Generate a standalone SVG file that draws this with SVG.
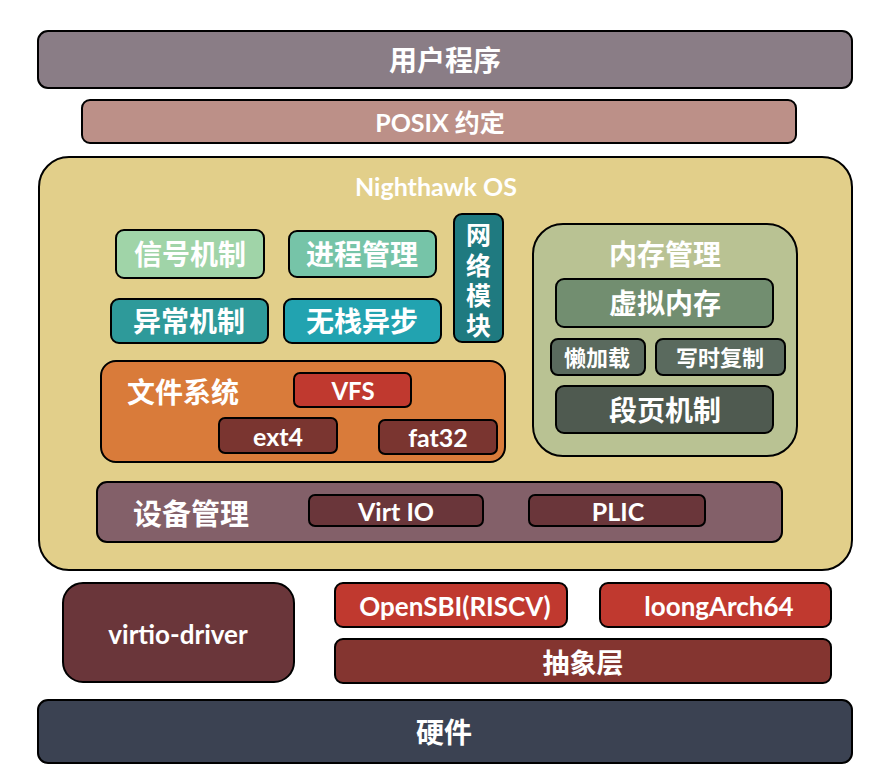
<svg xmlns="http://www.w3.org/2000/svg" width="888" height="782" viewBox="0 0 888 782">
<style>
.b{stroke:#000;stroke-width:2}
.t{font-family:Lato,"Noto Sans CJK SC",sans-serif;font-weight:bold;fill:#fff;text-anchor:middle;dominant-baseline:central}
</style>
<rect width="888" height="782" fill="#fff"/>
<g id="user"><rect class="b" x="38" y="31" width="814" height="57" rx="10" fill="#8A7D86"/><text class="t" x="445" y="60" font-size="28">用户程序</text></g>
<g id="posix"><rect class="b" x="82" y="100" width="714" height="43" rx="8" fill="#BC9088"/><text class="t" x="440" y="122" font-size="25">POSIX 约定</text></g>
<g id="os"><rect class="b" x="39" y="157" width="813" height="413" rx="30" fill="#E2CF8A"/><text class="t" x="436" y="186" font-size="25">Nighthawk OS</text></g>
<g id="signal"><rect class="b" x="116" y="230" width="148" height="48" rx="8" fill="#A0D4A8"/><text class="t" x="190" y="254" font-size="28">信号机制</text></g>
<g id="proc"><rect class="b" x="289" y="231" width="147" height="46" rx="8" fill="#76C4A8"/><text class="t" x="362" y="254" font-size="28">进程管理</text></g>
<g id="net"><rect class="b" x="454" y="214" width="49" height="128" rx="8" fill="#1F7A80"/><text class="t" x="478.5" font-size="25"><tspan x="478.5" y="234">网</tspan><tspan x="478.5" y="265">络</tspan><tspan x="478.5" y="295">模</tspan><tspan x="478.5" y="325">块</tspan></text></g>
<g id="exc"><rect class="b" x="111" y="299" width="157" height="44" rx="8" fill="#2E9A9A"/><text class="t" x="189" y="321" font-size="28">异常机制</text></g>
<g id="async"><rect class="b" x="284" y="299" width="157" height="44" rx="8" fill="#22A3B0"/><text class="t" x="362" y="321" font-size="28">无栈异步</text></g>
<g id="mem"><rect class="b" x="533" y="224" width="264" height="232" rx="30" fill="#B9C293"/><text class="t" x="665" y="254" font-size="28">内存管理</text></g>
<g id="vmem"><rect class="b" x="556" y="279" width="217" height="48" rx="8" fill="#728E70"/><text class="t" x="665" y="303" font-size="28">虚拟内存</text></g>
<g id="lazy"><rect class="b" x="551" y="339" width="94" height="36" rx="7" fill="#5A6A5E"/><text class="t" x="597" y="357" font-size="22">懒加载</text></g>
<g id="cow"><rect class="b" x="656" y="339" width="129" height="36" rx="7" fill="#5A6A5E"/><text class="t" x="720" y="357" font-size="22">写时复制</text></g>
<g id="seg"><rect class="b" x="556" y="386" width="217" height="47" rx="8" fill="#4F5A50"/><text class="t" x="665" y="410" font-size="28">段页机制</text></g>
<g id="fs"><rect class="b" x="101" y="361" width="404" height="101" rx="15" fill="#D97B3A"/><text class="t" x="183" y="392" font-size="28">文件系统</text></g>
<g id="vfs"><rect class="b" x="294" y="373" width="117" height="34" rx="6" fill="#C0392F"/><text class="t" x="353" y="390" font-size="24">VFS</text></g>
<g id="ext4"><rect class="b" x="219" y="418" width="118" height="35" rx="6" fill="#7A3530"/><text class="t" x="278" y="436" font-size="25">ext4</text></g>
<g id="fat32"><rect class="b" x="379" y="420" width="118" height="34" rx="6" fill="#7A3530"/><text class="t" x="438" y="437" font-size="25">fat32</text></g>
<g id="dev"><rect class="b" x="97" y="482" width="685" height="60" rx="10" fill="#836069"/><text class="t" x="191" y="513" font-size="29">设备管理</text></g>
<g id="virtio"><rect class="b" x="309" y="495" width="174" height="31" rx="6" fill="#6A363A"/><text class="t" x="396" y="511" font-size="25">Virt IO</text></g>
<g id="plic"><rect class="b" x="529" y="495" width="176" height="31" rx="6" fill="#6A363A"/><text class="t" x="618" y="511" font-size="25">PLIC</text></g>
<g id="vdrv"><rect class="b" x="63" y="583" width="231" height="99" rx="20" fill="#6A363A"/><text class="t" x="178" y="634" font-size="26">virtio-driver</text></g>
<g id="sbi"><rect class="b" x="335" y="583" width="232" height="44" rx="8" fill="#C0392F"/><text class="t" x="455" y="606" font-size="26">OpenSBI(RISCV)</text></g>
<g id="loong"><rect class="b" x="600" y="583" width="231" height="44" rx="8" fill="#C0392F"/><text class="t" x="719" y="606" font-size="26">loongArch64</text></g>
<g id="hal"><rect class="b" x="335" y="639" width="496" height="44" rx="8" fill="#843530"/><text class="t" x="583" y="662" font-size="27">抽象层</text></g>
<g id="hw"><rect class="b" x="38" y="700" width="814" height="63" rx="10" fill="#3B4252"/><text class="t" x="444" y="732" font-size="28">硬件</text></g>
<g id="connectors"></g>
</svg>
